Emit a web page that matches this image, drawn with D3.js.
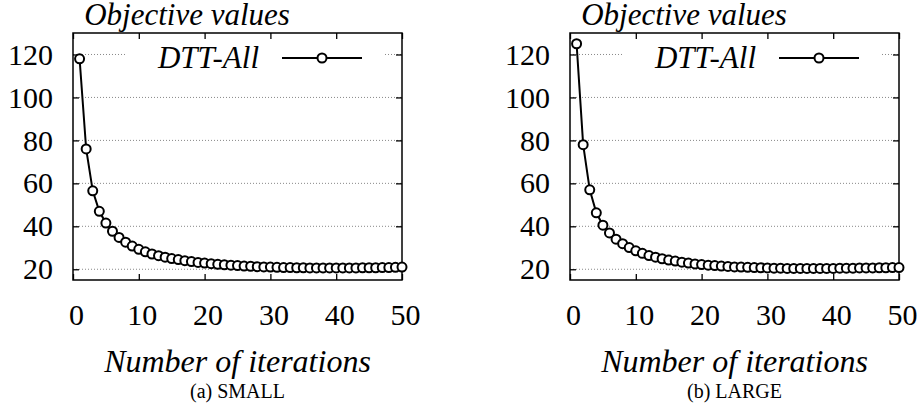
<!DOCTYPE html>
<meta charset="utf-8">
<body style="margin:0;background:#fff">
<script src="https://d3js.org/d3.v7.min.js"></script>
<script>

// data
var iterations = [1,2,3,4,5,6,7,8,9,10,11,12,13,14,15,16,17,18,19,20,
  21,22,23,24,25,26,27,28,29,30,31,32,33,34,35,36,37,38,39,40,
  41,42,43,44,45,46,47,48,49,50];

var smallValues = [118,76,56.5,47,41.5,37.7,34.8,32.6,30.8,29.3,
  28.1,27.1,26.3,25.6,25.0,24.5,24.0,23.6,23.2,22.9,
  22.6,22.3,22.1,21.9,21.7,21.5,21.4,21.2,21.1,21.0,
  20.9,20.8,20.8,20.7,20.7,20.6,20.6,20.6,20.6,20.6,
  20.6,20.6,20.6,20.7,20.7,20.7,20.8,20.8,20.9,21.0];

var largeValues = [125,78,57,46.3,40.5,36.9,34.0,31.9,30.1,28.6,
  27.4,26.4,25.6,24.9,24.3,23.8,23.3,22.9,22.5,22.2,
  21.9,21.7,21.5,21.3,21.1,21.0,20.9,20.8,20.7,20.6,
  20.5,20.5,20.4,20.4,20.4,20.4,20.4,20.4,20.4,20.4,
  20.5,20.5,20.5,20.6,20.6,20.6,20.7,20.7,20.8,20.8];

var xTicks = [0,10,20,30,40,50];
var yTicks = [20,40,60,80,100,120];
var seriesName = "DTT-All";
var yTitle = "Objective values";
var xTitle = "Number of iterations";
var captions = ["(a) SMALL", "(b) LARGE"];

var serif = "Liberation Serif";

var svg = d3.select("body").append("svg")
    .attr("width", 917)
    .attr("height", 410);

// plot area of one panel
var margin = {top: 33, left: 73},
    width = 329,
    height = 247;

var x = d3.scaleLinear().domain([0, 50]).range([0, width]);
var y = d3.scaleLinear().domain([15, 130]).range([height, 0]);

var valueline = d3.line()
    .x(function(d) { return x(d.it); })
    .y(function(d) { return y(d.v); });

// every text gets its font set on itself
function label(sel, size, italic) {
  return sel.attr("font-family", serif)
      .attr("font-size", size)
      .attr("font-style", italic ? "italic" : "normal")
      .attr("fill", "#000");
}

function drawPanel(offsetX, values, caption) {
  var g = svg.append("g")
      .attr("transform", "translate(" + (margin.left + offsetX) + "," + margin.top + ")");

  var data = iterations.map(function(it, i) { return {it: it, v: values[i]}; });

  // dotted grid lines
  g.selectAll(".grid").data(yTicks).enter().append("line")
      .attr("class", "grid")
      .attr("stroke", "#888").attr("stroke-dasharray", "1,2")
      .attr("x1", 0).attr("x2", width)
      .attr("y1", function(d) { return y(d); })
      .attr("y2", function(d) { return y(d); });

  // axes with inward ticks
  var ay = g.append("g")
      .call(d3.axisLeft(y).tickValues(yTicks).tickSize(-6).tickPadding(20));
  g.append("g")
      .attr("transform", "translate(" + width + ",0)")
      .call(d3.axisRight(y).tickValues(yTicks).tickSize(-6).tickFormat(""));
  var ax = g.append("g")
      .attr("transform", "translate(0," + height + ")")
      .call(d3.axisBottom(x).tickValues(xTicks).tickSize(-6).tickPadding(24));
  g.append("g")
      .call(d3.axisTop(x).tickValues(xTicks).tickSize(-6).tickFormat(""));

  g.selectAll(".domain").remove();
  g.selectAll(".tick line").attr("stroke", "#000").attr("stroke-width", 1.3);
  ay.attr("font-family", null).attr("font-size", null);
  ax.attr("font-family", null).attr("font-size", null);
  label(g.selectAll(".tick text"), 30, false);
  ax.selectAll(".tick text").attr("dx", 3);

  // frame
  g.append("rect")
      .attr("width", width).attr("height", height)
      .attr("fill", "none").attr("stroke", "#000").attr("stroke-width", 1.5);

  // legend box
  var leg = g.append("g");
  leg.append("rect")
      .attr("x", 52).attr("y", 10).attr("width", 258).attr("height", 30)
      .attr("fill", "#fff");
  label(leg.append("text"), 31, true)
      .attr("x", 186).attr("y", 35)
      .attr("text-anchor", "end")
      .text(seriesName);
  leg.append("line")
      .attr("x1", 209).attr("x2", 289)
      .attr("y1", 25).attr("y2", 25)
      .attr("stroke", "#000").attr("stroke-width", 2);
  leg.append("circle")
      .attr("cx", 249).attr("cy", 25).attr("r", 4.5)
      .attr("fill", "#fff").attr("stroke", "#000").attr("stroke-width", 2);

  // the series
  g.append("path")
      .datum(data)
      .attr("fill", "none").attr("stroke", "#000").attr("stroke-width", 2)
      .attr("d", valueline);
  g.selectAll(".pt").data(data).enter().append("circle")
      .attr("class", "pt")
      .attr("cx", function(d) { return x(d.it); })
      .attr("cy", function(d) { return y(d.v); })
      .attr("r", 4.5)
      .attr("fill", "#fff").attr("stroke", "#000").attr("stroke-width", 2);

  // titles
  label(g.append("text"), 31, true)
      .attr("x", 114).attr("y", -8)
      .attr("text-anchor", "middle")
      .text(yTitle);
  label(g.append("text"), 32, true)
      .attr("x", width / 2).attr("y", 339)
      .attr("text-anchor", "middle")
      .text(xTitle);
  label(g.append("text"), 20, false)
      .attr("x", width / 2).attr("y", 365)
      .attr("text-anchor", "middle")
      .text(caption);
}

drawPanel(0, smallValues, captions[0]);
drawPanel(497, largeValues, captions[1]);

</script>
</body>
